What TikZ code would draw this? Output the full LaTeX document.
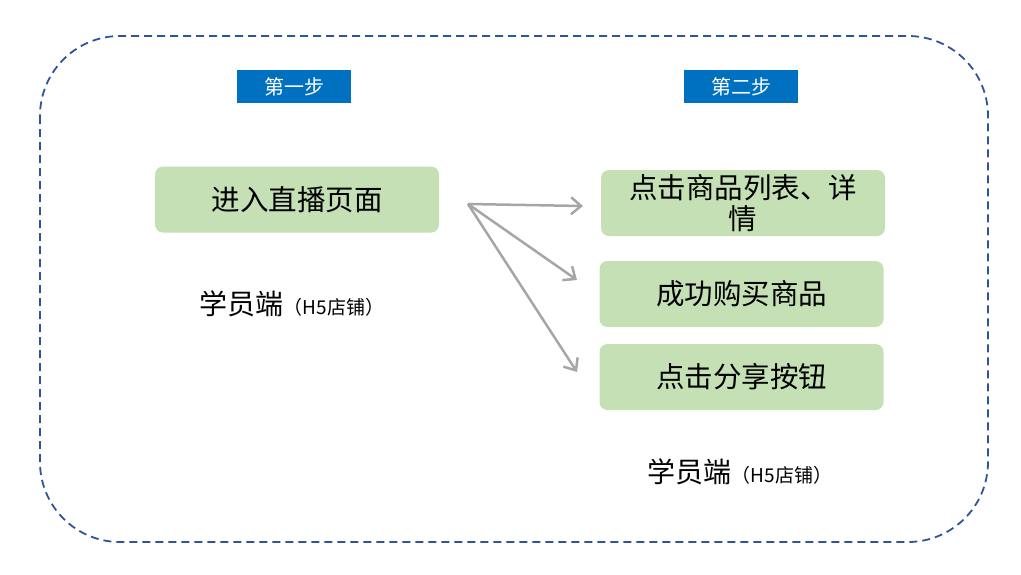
\documentclass[tikz,border=0pt]{standalone}
\usepackage{fontspec}
\setmainfont{Noto Sans CJK SC}
\usetikzlibrary{arrows.meta}
\definecolor{framecol}{HTML}{2F5597}
\definecolor{tagblue}{HTML}{0070C0}
\definecolor{boxgreen}{HTML}{C5E0B4}
\definecolor{arrowgray}{HTML}{A6A6A6}

\begin{document}
\begin{tikzpicture}[
        % Environment Config
        x=1pt, y=-1pt,
        Frame/.style={% Style for the dashed outer frame
          draw=framecol,
          dash pattern=on 8pt off 5pt,
          line width=1.8pt,
          rounded corners=80pt
        },
        StepTag/.style={% Style for the blue step tags
          fill=tagblue,
          text=white,
          minimum width=114pt,
          minimum height=33pt,
          inner sep=0pt,
          font=\fontsize{20}{23}\selectfont
        },
        StepBox/.style={% Style for the green action boxes
          fill=boxgreen,
          rounded corners=8pt,
          minimum width=284pt,
          minimum height=66pt,
          inner sep=0pt,
          align=center,
          font=\fontsize{28.5}{31}\selectfont
        },
        Client/.style={% Style for the client captions
          inner sep=0pt,
          font=\fontsize{28}{30}\selectfont
        },
        MyArrow/.style={% Style for the gray arrows
          -{Straight Barb[length=10pt,width=17pt]},
          arrowgray,
          line width=2.5pt
        }
      ]

      \useasboundingbox (0,0) rectangle (1021,574);

      %===Frame===
      \draw[Frame] (40,36) rectangle (988,542);

      %===Step tags===
      \node[StepTag] (Tag1) at (294,86.5) {第一步};
      \node[StepTag] (Tag2) at (741,86.5) {第二步};

      %===Step 1===
      \node[StepBox] (Enter) at (297,199.5) {进入直播页面};
      \node[Client] (Client1) at (292,304) {学员端{\fontsize{19}{20}\selectfont （H5店铺）}};

      %===Step 2===
      \node[StepBox] (List) at (743,203) {点击商品列表、详\\情};
      \node[StepBox] (Buy) at (741.5,294) {成功购买商品};
      \node[StepBox] (Share) at (741.5,377) {点击分享按钮};
      \node[Client] (Client2) at (740,472) {学员端{\fontsize{19}{20}\selectfont （H5店铺）}};

      % Arrow ends
      \coordinate (Hub) at (468,204);
      \coordinate (ListIn) at (583,206);
      \coordinate (BuyIn) at (577,280);
      \coordinate (ShareIn) at (577,372);

      % Draw the arrows
      \draw[MyArrow] (Hub) -- (ListIn);
      \draw[MyArrow] (Hub) -- (BuyIn);
      \draw[MyArrow] (Hub) -- (ShareIn);

\end{tikzpicture}
\end{document}
